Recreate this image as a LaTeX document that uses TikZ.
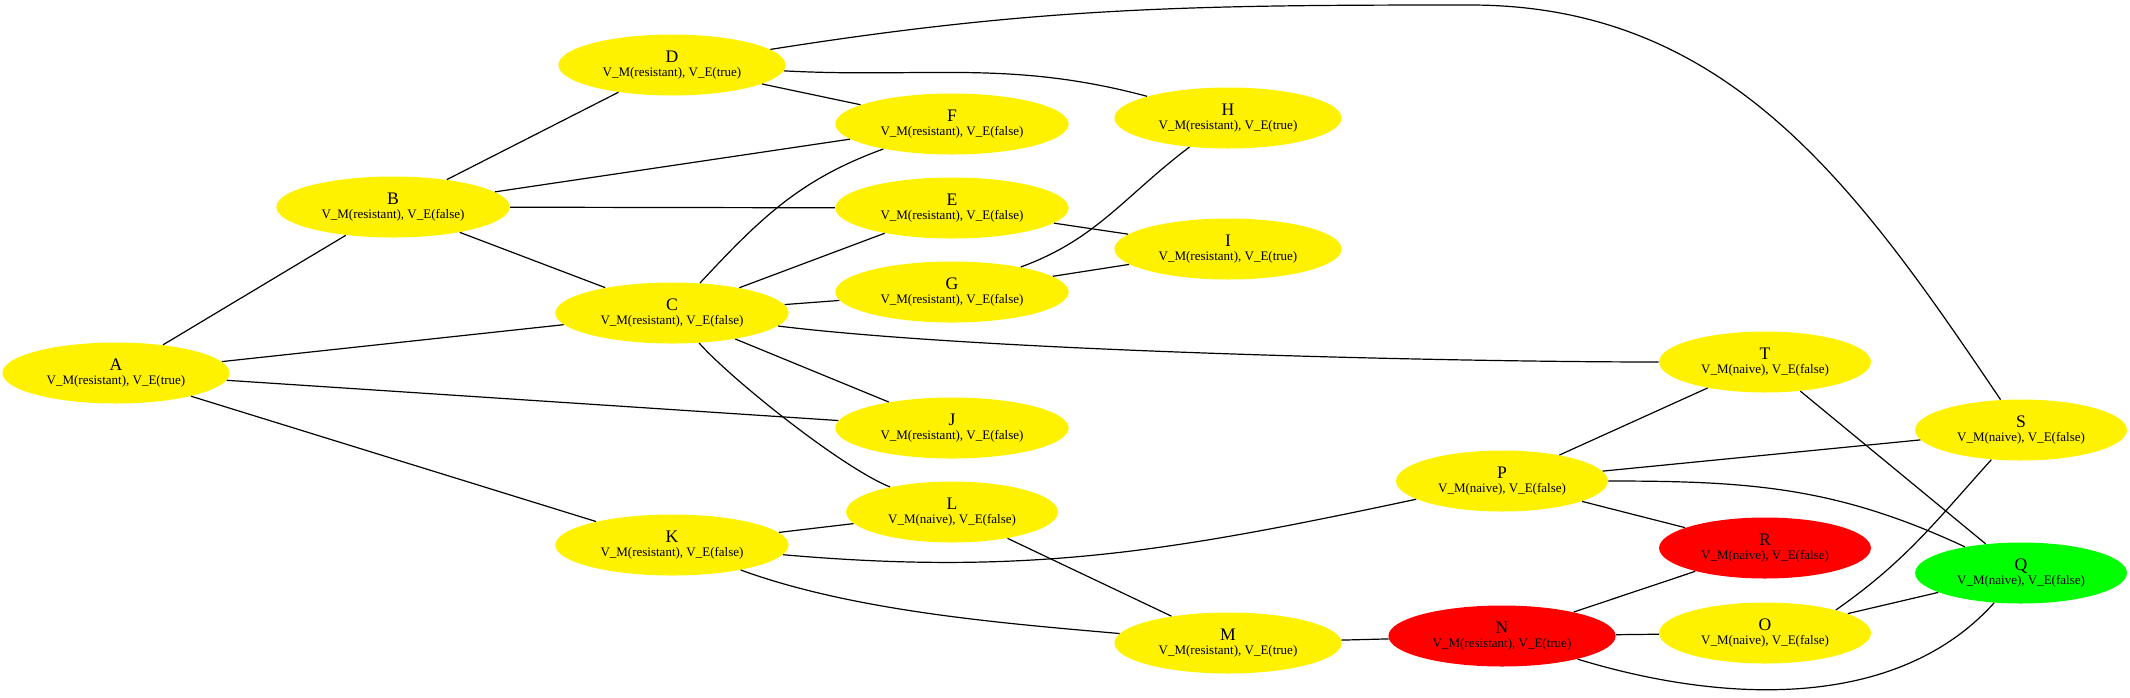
\documentclass[tikz,border=0pt]{standalone}
\usepackage{fontspec}
\setmainfont{Liberation Serif}
\usetikzlibrary{shapes.geometric}
\newcommand{\statelabel}[3]{{\fontsize{8.8}{8.8}\selectfont #1}\\V\_M(#2), V\_E(#3)}
\tikzset{
    vstate/.style={
        ellipse, fill=yellow, minimum height=30.5pt,
        inner xsep=5.5pt, inner ysep=0pt,
        align=center, font=\fontsize{6.5}{7}\selectfont
    },
    infected/.style={vstate, fill=red},
    cleared/.style={vstate, fill=green},
    link/.style={line width=0.6pt},
}
\begin{document}
\begin{tikzpicture}[x=0.5pt, y=-0.5pt]
    \useasboundingbox (0,0) rectangle (2130,697);
    \node[vstate] (A) at (116,373) {\statelabel{A}{resistant}{true}};
    \node[vstate] (B) at (393,207) {\statelabel{B}{resistant}{false}};
    \node[vstate] (C) at (672,313) {\statelabel{C}{resistant}{false}};
    \node[vstate] (D) at (672,65) {\statelabel{D}{resistant}{true}};
    \node[vstate] (K) at (672,545) {\statelabel{K}{resistant}{false}};
    \node[vstate] (F) at (952,124) {\statelabel{F}{resistant}{false}};
    \node[vstate] (E) at (952,208) {\statelabel{E}{resistant}{false}};
    \node[vstate] (G) at (952,292) {\statelabel{G}{resistant}{false}};
    \node[vstate] (J) at (952,428) {\statelabel{J}{resistant}{false}};
    \node[vstate] (L) at (952,512) {\statelabel{L}{naive}{false}};
    \node[vstate] (H) at (1228,118) {\statelabel{H}{resistant}{true}};
    \node[vstate] (I) at (1228,249) {\statelabel{I}{resistant}{true}};
    \node[vstate] (M) at (1228,643) {\statelabel{M}{resistant}{true}};
    \node[vstate] (P) at (1502,481) {\statelabel{P}{naive}{false}};
    \node[infected] (N) at (1502,636) {\statelabel{N}{resistant}{true}};
    \node[vstate] (T) at (1765,362) {\statelabel{T}{naive}{false}};
    \node[infected] (R) at (1765,548) {\statelabel{R}{naive}{false}};
    \node[vstate] (O) at (1765,633) {\statelabel{O}{naive}{false}};
    \node[vstate] (S) at (2021,430) {\statelabel{S}{naive}{false}};
    \node[cleared] (Q) at (2021,573) {\statelabel{Q}{naive}{false}};

    \draw[link] (A) -- (B);
    \draw[link] (A) -- (C);
    \draw[link] (A) -- (J);
    \draw[link] (A) -- (K);
    \draw[link] (B) -- (D);
    \draw[link] (B) -- (F);
    \draw[link] (B) -- (E);
    \draw[link] (B) -- (C);
    \draw[link] (C) to[out=47,in=200] (F);
    \draw[link] (C) -- (E);
    \draw[link] (C) -- (G);
    \draw[link] (C) -- (J);
    \draw[link] (C) to[out=-48,in=158,looseness=0.55] (L);
    \draw[link] (C) to[out=-7,in=180,looseness=0.6] (T);
    \draw[link] (D) -- (F);
    \draw[link] (D) to[out=-3,in=165] (H);
    \draw[link] (D) to[out=9,in=180] (1470,5) to[out=0,in=124] (S);
    \draw[link] (E) -- (I);
    \draw[link] (G) to[out=20,in=217] (H);
    \draw[link] (G) -- (I);
    \draw[link] (K) -- (L);
    \draw[link] (K) to[out=-5,in=192] (P);
    \draw[link] (K) to[out=-20,in=175,looseness=0.8] (M);
    \draw[link] (L) -- (M);
    \draw[link] (M) -- (N);
    \draw[link] (N) -- (R);
    \draw[link] (N) -- (O);
    \draw[link] (N) to[out=-17,in=228,looseness=0.9] (Q);
    \draw[link] (P) -- (T);
    \draw[link] (P) -- (S);
    \draw[link] (P) to[out=0,in=155] (Q);
    \draw[link] (P) -- (R);
    \draw[link] (T) -- (Q);
    \draw[link] (O.18) to[out=35,in=228] (S.225);
    \draw[link] (O) -- (Q);
\end{tikzpicture}
\end{document}
